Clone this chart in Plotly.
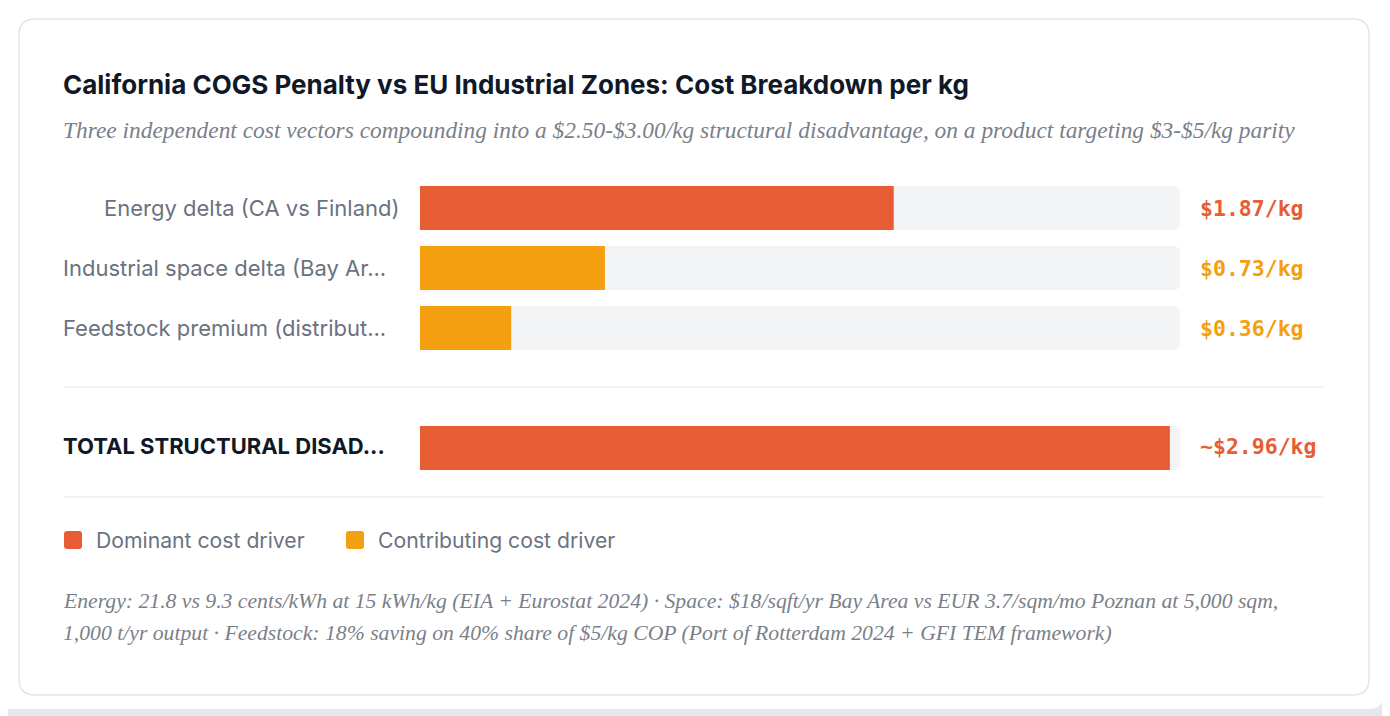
import plotly.graph_objects as go

# page is offset by the 8px body margin, so figure is sized to fill the rest
OFF = 8
PW, PH = 1390, 716
W, H = PW - OFF, PH - OFF

categories = [
    "Energy delta (CA vs Finland)",
    "Industrial space delta (Bay Ar...",
    "Feedstock premium (distribut...",
    "TOTAL STRUCTURAL DISAD...",
]
values = [1.87, 0.73, 0.36, 2.96]
value_labels = ["$1.87/kg", "$0.73/kg", "$0.36/kg", "~$2.96/kg"]
driver = ["Dominant", "Contributing", "Contributing", "Dominant"]
row_index = [0, 1, 2, 4]
scale_max = 3.0

RED = "#E85C33"
ORANGE = "#F39F10"
colors = [RED if d == "Dominant" else ORANGE for d in driver]

TITLE = "California COGS Penalty vs EU Industrial Zones: Cost Breakdown per kg"
SUBTITLE = ("Three independent cost vectors compounding into a $2.50-$3.00/kg structural "
            "disadvantage, on a product targeting $3-$5/kg parity")
FOOT1 = ("Energy: 21.8 vs 9.3 cents/kWh at 15 kWh/kg (EIA + Eurostat 2024) · Space: $18/sqft/yr "
         "Bay Area vs EUR 3.7/sqm/mo Poznan at 5,000 sqm,")
FOOT2 = ("1,000 t/yr output · Feedstock: 18% saving on 40% share of $5/kg COP "
         "(Port of Rotterdam 2024 + GFI TEM framework)")

SANS = "Inter, 'Noto Sans', sans-serif"
SERIF = "'Liberation Serif', 'DejaVu Serif', serif"
MONO = "'DejaVu Sans Mono', 'Liberation Mono', monospace"


def px(x):
    return (x - OFF) / W


def py(y):
    return 1 - (y - OFF) / H


# y axis: row 0 at page pixel 208, 60 px per row
ROW0, ROWPX = 208 - OFF, 60
y_top = -ROW0 / ROWPX
y_bot = (H - ROW0) / ROWPX

fig = go.Figure()
fig.add_trace(go.Bar(
    x=[scale_max] * len(values), y=row_index, orientation="h",
    marker=dict(color="#F3F4F6", cornerradius=6, line=dict(width=0)),
    width=44 / ROWPX, hoverinfo="skip", showlegend=False,
))
fig.add_trace(go.Bar(
    x=values, y=row_index, orientation="h",
    marker=dict(color=colors, cornerradius=6, line=dict(width=0)),
    width=44 / ROWPX, showlegend=False,
    hovertemplate="%{x}<extra></extra>",
))


def rounded_rect(x0, y0, x1, y1, r):
    X0, X1 = px(x0), px(x1)
    Y0, Y1 = py(y0), py(y1)
    rx, ry = r / W, r / H
    return (f"M {X0+rx},{Y0} L {X1-rx},{Y0} Q {X1},{Y0} {X1},{Y0-ry} "
            f"L {X1},{Y1+ry} Q {X1},{Y1} {X1-rx},{Y1} L {X0+rx},{Y1} "
            f"Q {X0},{Y1} {X0},{Y1+ry} L {X0},{Y0-ry} Q {X0},{Y0} {X0+rx},{Y0} Z")


shapes = [
    dict(type="path", xref="paper", yref="paper", path=rounded_rect(-20, -20, 1383, 709, 14),
         fillcolor="#FFFFFF", line=dict(width=0), layer="below"),
    dict(type="path", xref="paper", yref="paper", path=rounded_rect(19, 19, 1369, 695, 16),
         fillcolor="#FFFFFF", line=dict(color="#E3E5E8", width=1.5), layer="below"),
    dict(type="line", xref="paper", yref="paper", x0=px(64), x1=px(1324), y0=py(387), y1=py(387),
         line=dict(color="#EEF0F2", width=1.5)),
    dict(type="line", xref="paper", yref="paper", x0=px(64), x1=px(1324), y0=py(497), y1=py(497),
         line=dict(color="#EEF0F2", width=1.5)),
    dict(type="path", xref="paper", yref="paper", path=rounded_rect(64, 531, 82, 549, 3),
         fillcolor=RED, line=dict(width=0)),
    dict(type="path", xref="paper", yref="paper", path=rounded_rect(346, 531, 364, 549, 3),
         fillcolor=ORANGE, line=dict(width=0)),
]

annotations = [
    dict(text=f"<b>{TITLE}</b>", x=px(61), y=py(85), xanchor="left", yanchor="middle",
         font=dict(family=SANS, size=26, color="#111827")),
    dict(text=f"<i>{SUBTITLE}</i>", x=px(61), y=py(130), xanchor="left", yanchor="middle",
         font=dict(family=SERIF, size=23.4, color="#7A7F89")),
    dict(text="Dominant cost driver", x=px(94), y=py(540), xanchor="left", yanchor="middle",
         font=dict(family=SANS, size=21.2, color="#6B7280")),
    dict(text="Contributing cost driver", x=px(376), y=py(540), xanchor="left", yanchor="middle",
         font=dict(family=SANS, size=21.2, color="#6B7280")),
    dict(text=f"<i>{FOOT1}</i>", x=px(61), y=py(601), xanchor="left", yanchor="middle",
         font=dict(family=SERIF, size=21.7, color="#7A7F89")),
    dict(text=f"<i>{FOOT2}</i>", x=px(61), y=py(633), xanchor="left", yanchor="middle",
         font=dict(family=SERIF, size=21.7, color="#7A7F89")),
]

for cat, lab, idx, col, d in zip(categories, value_labels, row_index, colors, driver):
    ypix = ROW0 + OFF + idx * ROWPX - (2 if idx == 4 else 0)
    is_total = cat.startswith("TOTAL")
    truncated = cat.endswith("...")
    if is_total:
        annotations.append(dict(text=f"<b>{cat}</b>", x=px(61), y=py(ypix), xanchor="left",
                                yanchor="middle", font=dict(family=SANS, size=22, color="#111827")))
    elif truncated:
        annotations.append(dict(text=cat, x=px(61), y=py(ypix), xanchor="left", yanchor="middle",
                                font=dict(family=SANS, size=22, color="#6B7280")))
    else:
        annotations.append(dict(text=cat, x=px(402), y=py(ypix), xanchor="right", yanchor="middle",
                                font=dict(family=SANS, size=22, color="#6B7280")))
    annotations.append(dict(text=f"<b>{lab}</b>", x=px(1198), y=py(ypix), xanchor="left",
                            yanchor="middle", font=dict(family=MONO, size=21.5, color=col)))

for a in annotations:
    a.update(xref="paper", yref="paper", showarrow=False)

fig.update_layout(
    width=W, height=H,
    margin=dict(l=0, r=0, t=0, b=0),
    paper_bgcolor="#E4E7EB",
    plot_bgcolor="rgba(0,0,0,0)",
    barmode="overlay",
    showlegend=False,
    xaxis=dict(domain=[px(420), px(1180)], range=[0, scale_max], visible=False, fixedrange=True),
    yaxis=dict(domain=[0, 1], range=[y_bot, y_top], visible=False, fixedrange=True),
    shapes=shapes,
    annotations=annotations,
)

fig.write_html("out.html")
